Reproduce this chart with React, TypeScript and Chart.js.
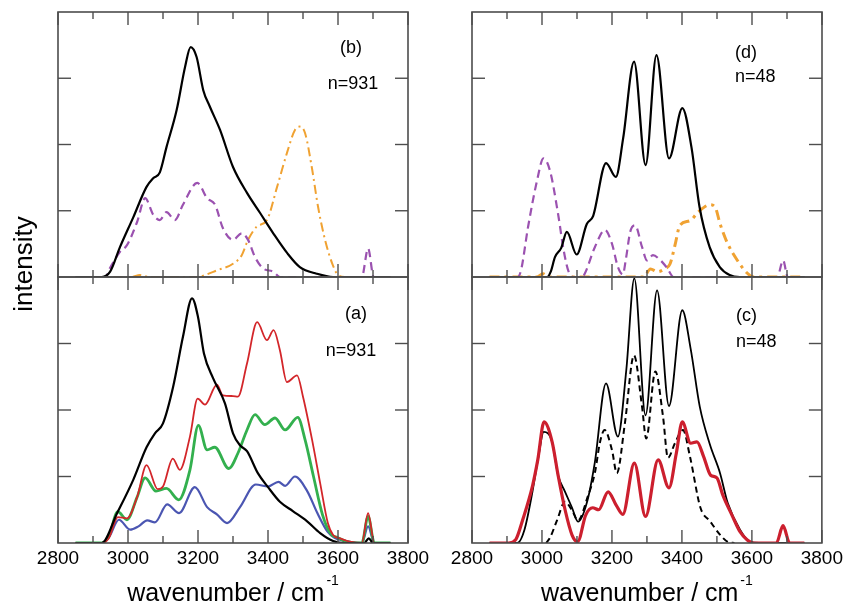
import React, { useEffect, useRef } from "react";
import { Chart, registerables } from "chart.js";

Chart.register(...registerables);

type Pt = [number, number];

// ---------- axes ----------
const xTickLabels = [2800, 3000, 3200, 3400, 3600, 3800];
const xMinorStep = 100;
const yTickValues = [1, 2, 3];
const xRange: Pt = [2800, 3800];
const yRange: Pt = [0, 4];

// ---------- panel (b) ----------
const bBlack: Pt[] = [[2850,0],[2925,0],[2949,0.08],[2977,0.45],[3015,0.9],[3053,1.36],[3072,1.49],[3091,1.58],[3110,1.96],[3139,2.52],[3163,3.17],[3179,3.47],[3196,3.32],[3215,2.82],[3234,2.57],[3263,2.22],[3300,1.66],[3340,1.27],[3377,0.97],[3415,0.66],[3455,0.36],[3491,0.15],[3539,0.05],[3586,0],[3750,0]];
const bPurple: Pt[] = [[2850,0],[2935,0],[2949,0.14],[2977,0.38],[2997,0.48],[3026,0.83],[3049,1.19],[3072,0.94],[3091,0.86],[3110,0.98],[3134,0.86],[3157,1.09],[3198,1.42],[3226,1.19],[3249,1.09],[3271,0.74],[3300,0.56],[3325,0.66],[3343,0.56],[3363,0.3],[3386,0.13],[3415,0.08],[3434,0],[3668,0],[3686,0.43],[3702,0],[3750,0]];
const bOrange: Pt[] = [[2850,0],[3010,0],[3034,0.03],[3060,0],[3200,0],[3215,0.02],[3254,0.1],[3300,0.2],[3325,0.33],[3343,0.56],[3368,0.76],[3397,0.86],[3426,1.36],[3454,1.87],[3477,2.22],[3491,2.27],[3506,2.17],[3525,1.66],[3543,1.06],[3563,0.56],[3583,0.21],[3600,0.03],[3620,0],[3750,0]];

// ---------- panel (a) ----------
const aBlack: Pt[] = [[2850,0],[2925,0],[2969,0.45],[3015,0.95],[3053,1.44],[3077,1.65],[3100,1.8],[3129,2.35],[3157,3.1],[3183,3.68],[3200,3.4],[3217,2.85],[3243,2.48],[3277,2.1],[3300,1.65],[3320,1.47],[3340,1.38],[3371,1.05],[3400,0.84],[3434,0.62],[3471,0.48],[3511,0.33],[3549,0.15],[3586,0.03],[3620,0],[3675,0],[3688,0.07],[3700,0],[3750,0]];
const aRed: Pt[] = [[2850,0],[2925,0],[2945,0.07],[2971,0.39],[2997,0.37],[3026,0.69],[3053,1.17],[3085,0.81],[3100,0.85],[3128,1.27],[3148,1.1],[3177,1.6],[3199,2.17],[3220,2.08],[3254,2.38],[3271,2.22],[3300,2.21],[3314,2.2],[3340,2.7],[3369,3.32],[3397,3.05],[3416,3.2],[3434,2.9],[3454,2.42],[3483,2.52],[3500,2.2],[3526,1.55],[3549,0.9],[3571,0.3],[3586,0.12],[3606,0.07],[3634,0.02],[3668,0],[3686,0.45],[3704,0],[3750,0]];
const aGreen: Pt[] = [[2850,0],[2925,0],[2945,0.1],[2971,0.47],[2997,0.35],[3026,0.69],[3049,0.98],[3080,0.78],[3110,0.82],[3145,0.65],[3177,1.1],[3201,1.77],[3226,1.4],[3248,1.44],[3288,1.12],[3314,1.35],[3340,1.7],[3363,1.93],[3391,1.78],[3420,1.88],[3449,1.7],[3485,1.89],[3506,1.55],[3530,1.0],[3556,0.42],[3579,0.14],[3600,0.08],[3625,0.02],[3668,0],[3686,0.4],[3704,0],[3750,0]];
const aBlue: Pt[] = [[2850,0],[2925,0],[2945,0.08],[2974,0.35],[3006,0.2],[3030,0.25],[3055,0.34],[3077,0.31],[3112,0.58],[3146,0.45],[3191,0.84],[3226,0.54],[3254,0.43],[3283,0.3],[3320,0.54],[3365,0.88],[3400,0.85],[3430,0.92],[3449,0.86],[3477,1.0],[3512,0.78],[3541,0.45],[3570,0.17],[3590,0.08],[3614,0.04],[3640,0.01],[3668,0],[3686,0.25],[3704,0],[3750,0]];

// ---------- panel (d) ----------
const dBlack: Pt[] = [[2850,0],[3015,0],[3025,0.08],[3037,0.3],[3055,0.44],[3071,0.68],[3099,0.34],[3128,0.8],[3146,0.92],[3183,1.72],[3211,1.51],[3232,2.1],[3263,3.25],[3296,1.69],[3327,3.35],[3363,1.79],[3401,2.55],[3427,1.96],[3450,1.06],[3479,0.45],[3508,0.15],[3536,0.03],[3565,0],[3750,0]];
const dPurple: Pt[] = [[2850,0],[2930,0],[2940,0.1],[2960,0.75],[2986,1.46],[3004,1.79],[3023,1.6],[3046,0.95],[3062,0.4],[3076,0.08],[3092,0],[3115,0],[3123,0.06],[3151,0.45],[3180,0.71],[3200,0.5],[3217,0.15],[3231,0.04],[3240,0.28],[3252,0.68],[3266,0.78],[3286,0.45],[3300,0.25],[3317,0.33],[3337,0.26],[3357,0.14],[3376,0],[3672,0],[3689,0.25],[3702,0],[3750,0]];
const dOrange: Pt[] = [[2850,0],[2985,0],[3003,0.05],[3020,0],[3290,0],[3310,0.12],[3330,0.08],[3350,0.12],[3366,0.2],[3380,0.48],[3394,0.78],[3423,0.85],[3446,0.98],[3480,1.09],[3495,1.05],[3509,0.8],[3529,0.52],[3557,0.26],[3586,0.06],[3605,0],[3750,0]];

// ---------- panel (c) ----------
const cBlack: Pt[] = [[2850,0],[2930,0],[2950,0.2],[2971,0.72],[2990,1.3],[3005,1.67],[3029,1.52],[3046,1.02],[3066,0.77],[3086,0.53],[3103,0.32],[3129,0.62],[3151,1.21],[3183,2.4],[3217,1.6],[3241,2.6],[3264,3.98],[3296,1.92],[3329,3.8],[3363,2.06],[3401,3.5],[3425,2.92],[3451,2.05],[3480,1.48],[3509,1.05],[3531,0.6],[3566,0.2],[3594,0.02],[3620,0],[3750,0]];
const cDashed: Pt[] = [[3012,0],[3023,0.08],[3043,0.34],[3066,0.62],[3085,0.5],[3103,0.34],[3131,0.7],[3151,1.05],[3166,1.52],[3179,1.7],[3200,1.4],[3214,1.05],[3237,1.8],[3263,2.82],[3286,2.05],[3298,1.57],[3324,2.58],[3346,1.9],[3360,1.28],[3380,1.5],[3403,1.7],[3423,1.3],[3453,0.53],[3480,0.33],[3508,0.13],[3530,0.02],[3550,0]];
const cRed: Pt[] = [[2850,0],[2905,0],[2925,0.05],[2945,0.35],[2973,0.86],[2988,1.25],[3006,1.82],[3029,1.52],[3046,1.02],[3066,0.5],[3086,0.12],[3102,0.02],[3125,0.42],[3145,0.53],[3162,0.5],[3189,0.77],[3212,0.57],[3231,0.43],[3264,1.2],[3296,0.4],[3332,1.25],[3363,0.83],[3384,1.35],[3401,1.82],[3425,1.5],[3443,1.52],[3462,1.3],[3482,1.02],[3500,0.98],[3517,0.72],[3543,0.42],[3566,0.17],[3586,0.05],[3605,0],[3670,0],[3689,0.26],[3708,0],[3750,0]];

// ---------- layout / style ----------
const W = 847;
const H = 604;
const FONT = '"Liberation Sans", Arial, Helvetica, sans-serif';
const PURPLE = "#9b52b0";
const ORANGE = "#f0a232";

interface Series { data: Pt[]; color: string; width: number; dash?: number[]; }
interface Label { text: string; dx: number; dy: number; align: CanvasTextAlign; }
interface Panel {
  area: { left: number; top: number; right: number; bottom: number };
  series: Series[];
  labels: Label[];
  showX: boolean;
  yTitle?: boolean;
}

const panels: Panel[] = [
  {
    area: { left: 58, top: 12, right: 408, bottom: 277 },
    series: [
      { data: bBlack, color: "#000", width: 2.2 },
      { data: bPurple, color: PURPLE, width: 2.2, dash: [8, 5] },
      { data: bOrange, color: ORANGE, width: 2, dash: [9, 4, 2, 4] },
    ],
    labels: [
      { text: "(b)", dx: 293, dy: 41, align: "center" },
      { text: "n=931", dx: 295, dy: 77, align: "center" },
    ],
    showX: false,
    yTitle: true,
  },
  {
    area: { left: 58, top: 277, right: 408, bottom: 543 },
    series: [
      { data: aBlack, color: "#000", width: 2.2 },
      { data: aRed, color: "#d3262a", width: 1.8 },
      { data: aGreen, color: "#33b04e", width: 2.8 },
      { data: aBlue, color: "#4b56b2", width: 2.2 },
    ],
    labels: [
      { text: "(a)", dx: 298, dy: 42, align: "center" },
      { text: "n=931", dx: 293, dy: 79, align: "center" },
    ],
    showX: true,
  },
  {
    area: { left: 472, top: 12, right: 822, bottom: 277 },
    series: [
      { data: dBlack, color: "#000", width: 2.2 },
      { data: dPurple, color: PURPLE, width: 2.2, dash: [8, 5] },
      { data: dOrange, color: ORANGE, width: 3, dash: [10, 5, 3, 5] },
    ],
    labels: [
      { text: "(d)", dx: 263, dy: 46, align: "left" },
      { text: "n=48", dx: 263, dy: 70, align: "left" },
    ],
    showX: false,
  },
  {
    area: { left: 472, top: 277, right: 822, bottom: 543 },
    series: [
      { data: cRed, color: "#cc1f2e", width: 3.2 },
      { data: cBlack, color: "#000", width: 1.8 },
      { data: cDashed, color: "#000", width: 2, dash: [6, 4] },
    ],
    labels: [
      { text: "(c)", dx: 264, dy: 44, align: "left" },
      { text: "n=48", dx: 264, dy: 70, align: "left" },
    ],
    showX: true,
  },
];

function makeDecor(p: Panel) {
  return {
    id: "decor",
    afterDraw(chart: any) {
      const { ctx, chartArea: a, scales } = chart;
      const x = scales.x;
      const y = scales.y;
      ctx.save();
      ctx.strokeStyle = "#4d4d4d";
      ctx.lineWidth = 1.6;
      ctx.strokeRect(a.left, a.top, a.right - a.left, a.bottom - a.top);
      const seg = (x1: number, y1: number, x2: number, y2: number) => {
        ctx.beginPath();
        ctx.moveTo(x1, y1);
        ctx.lineTo(x2, y2);
        ctx.stroke();
      };
      ctx.lineWidth = 1.4;
      for (let v = x.min; v <= x.max + 0.5; v += xMinorStep) {
        const px = x.getPixelForValue(v);
        const major = xTickLabels.includes(v);
        const len = major ? 13 : 7;
        seg(px, a.bottom, px, a.bottom - len);
        seg(px, a.top, px, a.top + len);
      }
      for (const t of yTickValues) {
        const py = y.getPixelForValue(t);
        seg(a.left, py, a.left + 13, py);
        seg(a.right, py, a.right - 13, py);
      }
      ctx.fillStyle = "#000";
      ctx.textBaseline = "alphabetic";
      ctx.font = `18px ${FONT}`;
      for (const l of p.labels) {
        ctx.textAlign = l.align;
        ctx.fillText(l.text, a.left + l.dx, a.top + l.dy);
      }
      if (p.showX) {
        const main = "wavenumber / cm";
        const sup = "-1";
        ctx.font = `25px ${FONT}`;
        const w1 = ctx.measureText(main).width;
        ctx.font = `14px ${FONT}`;
        const w2 = ctx.measureText(sup).width;
        const cx = (a.left + a.right) / 2;
        const x0 = cx - (w1 + w2 + 2) / 2;
        ctx.textAlign = "left";
        ctx.font = `25px ${FONT}`;
        ctx.fillText(main, x0, 601);
        ctx.font = `14px ${FONT}`;
        ctx.fillText(sup, x0 + w1 + 2, 585);
      }
      if (p.yTitle) {
        ctx.save();
        ctx.translate(32, 264);
        ctx.rotate(-Math.PI / 2);
        ctx.textAlign = "center";
        ctx.font = `26px ${FONT}`;
        ctx.fillText("intensity", 0, 0);
        ctx.restore();
      }
      ctx.restore();
    },
  };
}

function PanelChart({ p }: { p: Panel }) {
  const ref = useRef<HTMLCanvasElement | null>(null);
  useEffect(() => {
    if (!ref.current) return;
    const a = p.area;
    const xAxisHeight = H - a.bottom;
    const chart = new Chart(ref.current, {
      type: "line",
      data: {
        datasets: p.series.map((s) => ({
          data: s.data.map(([xv, yv]) => ({ x: xv, y: yv })),
          borderColor: s.color,
          borderWidth: s.width,
          borderDash: s.dash || [],
          borderCapStyle: "butt",
          pointRadius: 0,
          fill: false,
          cubicInterpolationMode: "monotone",
        })),
      },
      options: {
        responsive: false,
        animation: false,
        events: [],
        layout: {
          padding: { left: a.left, top: a.top, right: W - a.right, bottom: 0 },
        },
        plugins: { legend: { display: false }, tooltip: { enabled: false } },
        scales: {
          x: {
            type: "linear",
            min: xRange[0],
            max: xRange[1],
            afterFit: (s: any) => { s.height = xAxisHeight; },
            afterBuildTicks: (s: any) => { s.ticks = xTickLabels.map((v) => ({ value: v })); },
            grid: { display: false, drawTicks: false },
            border: { display: false },
            ticks: {
              display: p.showX,
              autoSkip: false,
              maxRotation: 0,
              padding: 4,
              color: "#000",
              font: { family: FONT, size: 19 },
              callback: (v: any) => String(v),
            },
          },
          y: {
            type: "linear",
            min: yRange[0],
            max: yRange[1],
            afterFit: (s: any) => { s.width = 0; },
            grid: { display: false, drawTicks: false },
            border: { display: false },
            ticks: { display: false },
          },
        },
      } as any,
      plugins: [makeDecor(p)],
    });
    return () => chart.destroy();
  }, [p]);
  return (
    <canvas
      ref={ref}
      width={W}
      height={H}
      style={{ position: "absolute", left: 0, top: 0, width: W, height: H }}
    />
  );
}

export default function App() {
  return (
    <div style={{ position: "absolute", left: 0, top: 0, width: W, height: H, background: "#fff" }}>
      {panels.map((p, i) => (
        <PanelChart key={i} p={p} />
      ))}
    </div>
  );
}
